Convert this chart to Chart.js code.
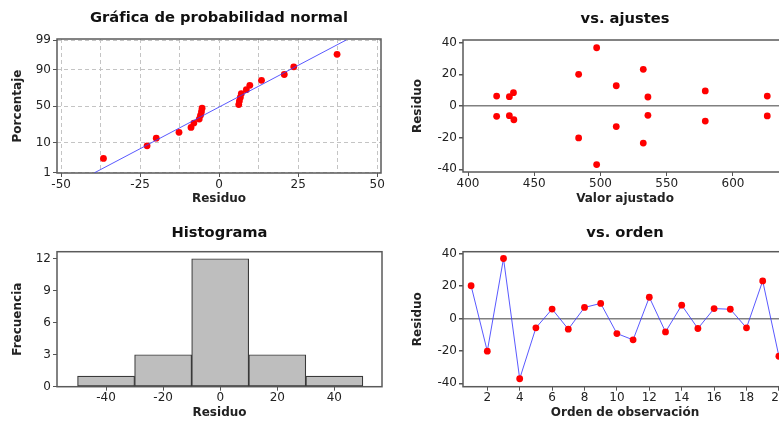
<!DOCTYPE html>
<html lang="es">
<head>
<meta charset="utf-8">
<title>Gráficas de residuos</title>
<script src="https://cdn.jsdelivr.net/npm/chart.js@4.4.0/dist/chart.umd.min.js"></script>
<style>
    html, body { margin: 0; padding: 0; background: #fff; width: 779px; height: 422px; overflow: hidden; position: relative; }
    canvas { position: absolute; }
</style>
</head>
<body>
<canvas id="normal" width="390" height="210" style="left:0;top:0"></canvas>
<canvas id="ajustes" width="410" height="210" style="left:390px;top:0"></canvas>
<canvas id="histograma" width="390" height="212" style="left:0;top:210px"></canvas>
<canvas id="orden" width="410" height="212" style="left:390px;top:210px"></canvas>
<script>
// Datos

// Probabilidad normal (residuos ordenados y su porcentaje)
const normResiduos = [-36.6, -22.8, -19.9, -12.7, -8.9, -8.0, -6.3, -5.9, -5.6, -5.4,
                      6.2, 6.4, 6.7, 7.0, 8.6, 9.7, 13.4, 20.6, 23.6, 37.3];
const normPorcentaje = [3.4, 8.3, 13.2, 18.1, 23.0, 27.9, 32.8, 37.7, 42.6, 47.5,
                        52.5, 57.4, 62.3, 67.2, 72.1, 77.0, 81.9, 86.8, 91.7, 96.6];
const lineaResiduo = [-39.4, 40.2];
const lineaPorcentaje = [1, 99];
const normTicksX = [-50, -25, 0, 25, 50];
const normRejillaX = [-50, -37.5, -25, -12.5, 0, 12.5, 25, 37.5, 50];
const normTicksPct = [1, 10, 50, 90, 99];

// vs. ajustes
const ajustesValores = [421.6, 421.6, 431.2, 431.2, 434.3, 434.6, 483.5, 483.5, 497.1, 497.1,
                        511.9, 511.9, 532.3, 532.3, 535.8, 535.8, 579.1, 579.1, 625.9, 625.9];
const ajustesResiduos = [6.3, -6.5, 5.9, -6.1, 8.4, -8.7, 20.0, -20.2, 36.8, -37.0,
                         12.8, -13.0, 23.2, -23.4, 5.7, -5.9, 9.5, -9.5, 6.3, -6.3];
const ajustesTicksX = [400, 450, 500, 550, 600];
const residuoTicks = [-40, -20, 0, 20, 40];

// Histograma
const histCentros = [-40, -20, 0, 20, 40];
const histFrecuencias = [1, 3, 12, 3, 1];
const histTicksY = [0, 3, 6, 9, 12];

// vs. orden
const ordenObs = [1, 2, 3, 4, 5, 6, 7, 8, 9, 10, 11, 12, 13, 14, 15, 16, 17, 18, 19, 20];
const ordenResiduos = [20.2, -20.2, 37.0, -37.2, -5.8, 5.8, -6.6, 6.8, 9.3, -9.3,
                       -13.2, 13.1, -8.3, 8.2, -6.2, 6.1, 5.7, -5.8, 23.2, -23.3];
const ordenTicksX = [2, 4, 6, 8, 10, 12, 14, 16, 18, 20];

Chart.defaults.font.family = '"DejaVu Sans", Verdana, sans-serif';
Chart.defaults.font.size = 12;
Chart.defaults.color = '#222';
Chart.defaults.animation = false;
Chart.defaults.plugins.legend.display = false;
Chart.defaults.plugins.tooltip.enabled = false;

const ROJO = '#ff0000';
const AZUL = 'rgba(60, 60, 255, 0.85)';

// Inversa de la normal estándar (p en porcentaje), para la escala de probabilidad
function probit(p) {
    const q = p / 100;
    const a = [-39.69683028665376, 220.9460984245205, -275.9285104469687, 138.3577518672690, -30.66479806614716, 2.506628277459239];
    const b = [-54.47609879822406, 161.5858368580409, -155.6989798598866, 66.80131188771972, -13.28068155288572];
    const c = [-0.007784894002430293, -0.3223964580411365, -2.400758277161838, -2.549732539343734, 4.374664141464968, 2.938163982698783];
    const d = [0.007784695709041462, 0.3224671290700398, 2.445134137142996, 3.754408661907416];
    const bajo = 0.02425;
    if (q < bajo || q > 1 - bajo) {
        const s = Math.sqrt(-2 * Math.log(q < bajo ? q : 1 - q));
        const v = (((((c[0] * s + c[1]) * s + c[2]) * s + c[3]) * s + c[4]) * s + c[5]) /
                  ((((d[0] * s + d[1]) * s + d[2]) * s + d[3]) * s + 1);
        return q < bajo ? v : -v;
    }
    const s = q - 0.5, r = s * s;
    return (((((a[0] * r + a[1]) * r + a[2]) * r + a[3]) * r + a[4]) * r + a[5]) * s /
           (((((b[0] * r + b[1]) * r + b[2]) * r + b[3]) * r + b[4]) * r + 1);
}

// Marco alrededor del área de trazado
const marco = {
    id: 'marco',
    beforeDatasetsDraw(chart) {
        const { ctx, chartArea: a } = chart;
        ctx.save();
        ctx.strokeStyle = '#5a5a5a';
        ctx.lineWidth = 1.5;
        ctx.strokeRect(a.left, a.top, a.width, a.height);
        ctx.restore();
    }
};

class GraficasResiduos {
    constructor() {
        this.charts = {};
    }

    // Eje horizontal con ticks fijos
    ejeX(c) {
        return {
            type: 'linear',
            position: 'bottom',
            offset: false,
            min: c.min,
            max: c.max,
            afterBuildTicks: s => { s.ticks = c.ticks.map(v => ({ value: v })); },
            afterFit: s => { s.height = c.alto; },
            ticks: { padding: c.pad, maxRotation: 0, autoSkip: false, callback: c.etiqueta || (v => v) },
            grid: {
                offset: false,
                drawOnChartArea: !!c.rejilla,
                color: c.rejilla || 'transparent',
                tickLength: 4,
                tickColor: c.colorTick || '#555'
            },
            border: { display: false, dash: c.dash || [] },
            title: {
                display: true,
                text: c.titulo,
                font: { size: 12, weight: 'bold' },
                padding: { top: 0, bottom: c.tituloPad }
            }
        };
    }

    // Eje vertical con ticks fijos
    ejeY(c) {
        return {
            type: 'linear',
            min: c.min,
            max: c.max,
            afterBuildTicks: s => { s.ticks = c.ticks.map(v => ({ value: v })); },
            afterFit: s => { s.width = c.ancho; },
            ticks: { padding: 2, autoSkip: false, callback: c.etiqueta || (v => v) },
            grid: {
                drawOnChartArea: !!c.rejilla,
                color: c.rejilla || 'transparent',
                lineWidth: c.grosor || 1,
                tickLength: 4,
                tickColor: '#555'
            },
            border: { display: false, dash: c.dash || [] },
            title: {
                display: true,
                text: c.titulo,
                font: { size: 12, weight: 'bold' },
                padding: { top: c.tituloPad, bottom: 0 }
            }
        };
    }

    titulo(texto, arriba, abajo) {
        return {
            display: true,
            text: texto,
            fullSize: false,
            color: '#111',
            font: { size: 14.7, weight: 'bold', lineHeight: 1.15 },
            padding: { top: arriba, bottom: abajo }
        };
    }

    // Gráfica de probabilidad normal
    crearProbabilidadNormal(id) {
        const puntos = normResiduos.map((r, i) => ({ x: r, y: probit(normPorcentaje[i]) }));
        const linea = lineaResiduo.map((r, i) => ({ x: r, y: probit(lineaPorcentaje[i]) }));
        const rejilla = '#c4c4c4';

        this.charts[id] = new Chart(document.getElementById(id), {
            type: 'scatter',
            data: {
                datasets: [
                    { data: linea, showLine: true, borderColor: AZUL, borderWidth: 1, pointRadius: 0 },
                    { data: puntos, pointRadius: 3.4, pointBackgroundColor: ROJO, pointBorderWidth: 0 }
                ]
            },
            options: {
                responsive: false,
                devicePixelRatio: 1,
                layout: { padding: { left: 0, right: 9, top: 0, bottom: 0 } },
                plugins: { title: this.titulo('Gráfica de probabilidad normal', 10, 12.1) },
                scales: {
                    x: this.ejeX({
                        min: -51.3, max: 51.2, ticks: normRejillaX, alto: 37, pad: 1,
                        rejilla: rejilla, dash: [4, 3], titulo: 'Residuo', tituloPad: 3.8,
                        etiqueta: v => normTicksX.includes(v) ? v : '',
                        colorTick: ctx => normTicksX.includes(ctx.tick.value) ? '#555' : 'transparent'
                    }),
                    y: this.ejeY({
                        min: probit(1) - 0.01, max: probit(99) + 0.035,
                        ticks: normTicksPct.map(probit), ancho: 57,
                        rejilla: rejilla, dash: [4, 3], titulo: 'Porcentaje', tituloPad: 10.8,
                        etiqueta: (v, i) => normTicksPct[i]
                    })
                }
            },
            plugins: [marco]
        });
    }

    // Residuos contra valores ajustados
    crearVsAjustes(id) {
        const puntos = ajustesValores.map((f, i) => ({ x: f, y: ajustesResiduos[i] }));

        this.charts[id] = new Chart(document.getElementById(id), {
            type: 'scatter',
            data: {
                datasets: [{ data: puntos, pointRadius: 3.4, pointBackgroundColor: ROJO, pointBorderWidth: 0 }]
            },
            options: {
                responsive: false,
                devicePixelRatio: 1,
                layout: { padding: { left: 0, right: 13, top: 0, bottom: 0 } },
                plugins: { title: this.titulo('vs. ajustes', 10.9, 12.2) },
                scales: {
                    x: this.ejeX({
                        min: 396.2, max: 640.8, ticks: ajustesTicksX, alto: 38, pad: 1,
                        titulo: 'Valor ajustado', tituloPad: 3.8
                    }),
                    y: this.ejeY({
                        min: -41.7, max: 41.7, ticks: residuoTicks, ancho: 73,
                        rejilla: ctx => ctx.tick.value === 0 ? '#808080' : 'transparent', grosor: 1.5,
                        titulo: 'Residuo', tituloPad: 20.8
                    })
                }
            },
            plugins: [marco]
        });
    }

    // Histograma de residuos
    crearHistograma(id) {
        const barras = histCentros.map((c, i) => ({ x: c, y: histFrecuencias[i] }));

        this.charts[id] = new Chart(document.getElementById(id), {
            type: 'bar',
            data: {
                datasets: [{
                    data: barras,
                    backgroundColor: '#bebebe',
                    borderColor: '#3a3a3a',
                    borderWidth: 1.2,
                    borderSkipped: false,
                    barPercentage: 1,
                    categoryPercentage: 1
                }]
            },
            options: {
                responsive: false,
                devicePixelRatio: 1,
                layout: { padding: { left: 0, right: 8, top: 0, bottom: 0 } },
                plugins: { title: this.titulo('Histograma', 14.9, 9.9) },
                scales: {
                    x: this.ejeX({
                        min: -57.2, max: 56.7, ticks: histCentros, alto: 35.3, pad: 0,
                        titulo: 'Residuo', tituloPad: 1.5
                    }),
                    y: this.ejeY({
                        min: 0, max: 12.66, ticks: histTicksY, ancho: 57,
                        titulo: 'Frecuencia', tituloPad: 11
                    })
                }
            },
            plugins: [marco]
        });
    }

    // Residuos contra el orden de observación
    crearVsOrden(id) {
        const puntos = ordenObs.map((o, i) => ({ x: o, y: ordenResiduos[i] }));

        this.charts[id] = new Chart(document.getElementById(id), {
            type: 'line',
            data: {
                datasets: [{
                    data: puntos,
                    borderColor: AZUL,
                    borderWidth: 1,
                    tension: 0,
                    pointRadius: 3.4,
                    pointBackgroundColor: ROJO,
                    pointBorderColor: ROJO,
                    pointBorderWidth: 0
                }]
            },
            options: {
                responsive: false,
                devicePixelRatio: 1,
                layout: { padding: { left: 0, right: 13, top: 0, bottom: 0 } },
                plugins: { title: this.titulo('vs. orden', 14.3, 10.5) },
                scales: {
                    x: this.ejeX({
                        min: 0.5, max: 20.5, ticks: ordenTicksX, alto: 35.3, pad: 0,
                        titulo: 'Orden de observación', tituloPad: 1.5
                    }),
                    y: this.ejeY({
                        min: -42.1, max: 41.2, ticks: residuoTicks, ancho: 73,
                        rejilla: ctx => ctx.tick.value === 0 ? '#808080' : 'transparent', grosor: 1.5,
                        titulo: 'Residuo', tituloPad: 20.8
                    })
                }
            },
            plugins: [marco]
        });
    }
}

window.graficas = new GraficasResiduos();
graficas.crearProbabilidadNormal('normal');
graficas.crearVsAjustes('ajustes');
graficas.crearHistograma('histograma');
graficas.crearVsOrden('orden');
</script>
</body>
</html>
